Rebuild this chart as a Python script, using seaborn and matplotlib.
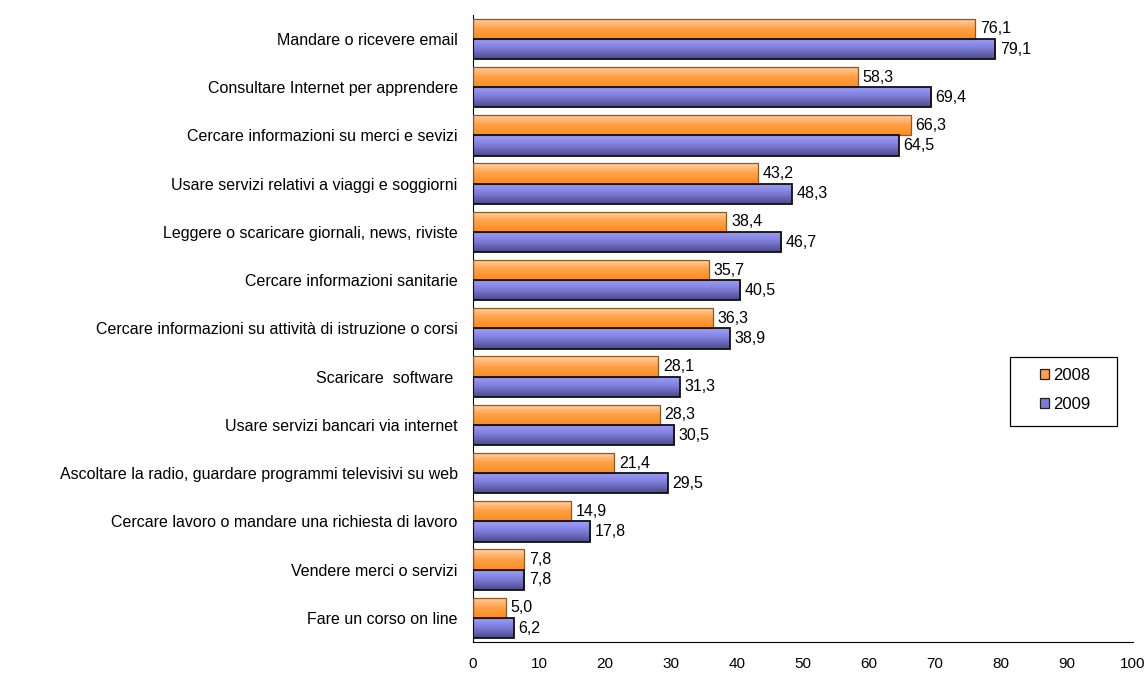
import matplotlib
matplotlib.use("Agg")
import matplotlib.pyplot as plt
import matplotlib.colors as mcolors
import seaborn as sns
import pandas as pd
import numpy as np

categories = [
    "Mandare o ricevere email",
    "Consultare Internet per apprendere",
    "Cercare informazioni su merci e sevizi",
    "Usare servizi relativi a viaggi e soggiorni",
    "Leggere o scaricare giornali, news, riviste",
    "Cercare informazioni sanitarie",
    "Cercare informazioni su attività di istruzione o corsi",
    "Scaricare  software ",
    "Usare servizi bancari via internet",
    "Ascoltare la radio, guardare programmi televisivi su web",
    "Cercare lavoro o mandare una richiesta di lavoro",
    "Vendere merci o servizi",
    "Fare un corso on line",
]
values_2008 = [76.1, 58.3, 66.3, 43.2, 38.4, 35.7, 36.3, 28.1, 28.3, 21.4, 14.9, 7.8, 5.0]
values_2009 = [79.1, 69.4, 64.5, 48.3, 46.7, 40.5, 38.9, 31.3, 30.5, 29.5, 17.8, 7.8, 6.2]
years = ["2008", "2009"]
x_ticks = [0, 10, 20, 30, 40, 50, 60, 70, 80, 90, 100]

df = pd.DataFrame({
    "Attività": categories * 2,
    "Anno": [years[0]] * len(categories) + [years[1]] * len(categories),
    "Valore": values_2008 + values_2009,
})

sns.set_style("white")
plt.rcParams["font.family"] = ["Liberation Sans", "DejaVu Sans"]
plt.rcParams["text.color"] = "black"
plt.rcParams["xtick.color"] = "black"
plt.rcParams["ytick.color"] = "black"

fig = plt.figure(figsize=(11.46, 6.78), dpi=100)
ax = fig.add_axes([0.4127, 0.0531, 0.576, 0.925])

palette = {"2008": "#FFA850", "2009": "#7C7CD8"}
sns.barplot(data=df, y="Attività", x="Valore", hue="Anno", order=categories,
            hue_order=years, palette=palette, width=0.84, orient="h",
            saturation=1, ax=ax, legend=False)

# gradient fill, light on top, darker at the bottom
grads = {
    "2008": ["#FFD3A8", "#FFA048", "#FF8C1A"],
    "2009": ["#A0A0FF", "#7C7CD8", "#4A4A88"],
}
edges = {"2008": ("#8A5A20", 0.9), "2009": ("#101010", 1.3)}
n = len(categories)
for i, cont in enumerate(ax.containers):
    yr = years[i]
    cmap = mcolors.LinearSegmentedColormap.from_list(yr, grads[yr])
    vals = values_2008 if yr == "2008" else values_2009
    for bar, v in zip(cont, vals):
        x0, y0 = bar.get_x(), bar.get_y()
        w, h = bar.get_width(), bar.get_height()
        g = np.linspace(0, 1, 64).reshape(-1, 1)
        im = ax.imshow(g, cmap=cmap, aspect="auto",
                       extent=[x0, x0 + w, y0 + h, y0], zorder=2,
                       interpolation="bilinear")
        im.set_clip_path(bar)
        bar.set_facecolor("none")
        bar.set_edgecolor(edges[yr][0])
        bar.set_linewidth(edges[yr][1])
        bar.set_zorder(3)
        ax.text(v + 0.7, y0 + h / 2, f"{v:.1f}".replace(".", ","),
                va="center", ha="left", fontsize=11.5, color="black", zorder=4)

ax.set_xlim(0, 100)
ax.set_ylim(n - 0.5, -0.5)
ax.set_xticks(x_ticks)
ax.set_xticklabels([str(t) for t in x_ticks], fontsize=11)
ax.tick_params(axis="x", direction="out", length=5, width=0.8, color="black", pad=6)
ax.tick_params(axis="y", which="major", length=0, labelsize=11.5, pad=11)
ax.set_yticks(np.arange(-0.5, n, 1.0), minor=True)
ax.tick_params(axis="y", which="minor", direction="out", length=5, width=0.8, color="black")
ax.set_xlabel("")
ax.set_ylabel("")

for s in ["top", "right"]:
    ax.spines[s].set_visible(False)
for s in ["left", "bottom"]:
    ax.spines[s].set_color("black")
    ax.spines[s].set_linewidth(0.8)

handles = [plt.Rectangle((0, 0), 1, 1, facecolor=grads[y][1], edgecolor="#202020", linewidth=0.9)
           for y in years]
leg = ax.legend(handles, years, loc="center", bbox_to_anchor=(0.897, 0.402),
                frameon=False, fontsize=12, handlelength=0.55,
                handleheight=0.55, handletextpad=0.25, labelspacing=0.8,
                borderpad=0.3, borderaxespad=0)
# legend frame, wider than the content like the original
frame = plt.Rectangle((0.8136, 0.3445), 0.9758 - 0.8136, 0.4545 - 0.3445,
                      transform=ax.transAxes, fill=False, edgecolor="black",
                      linewidth=0.9, clip_on=False, zorder=5)
ax.add_patch(frame)

fig.savefig("out.png", dpi=100)
